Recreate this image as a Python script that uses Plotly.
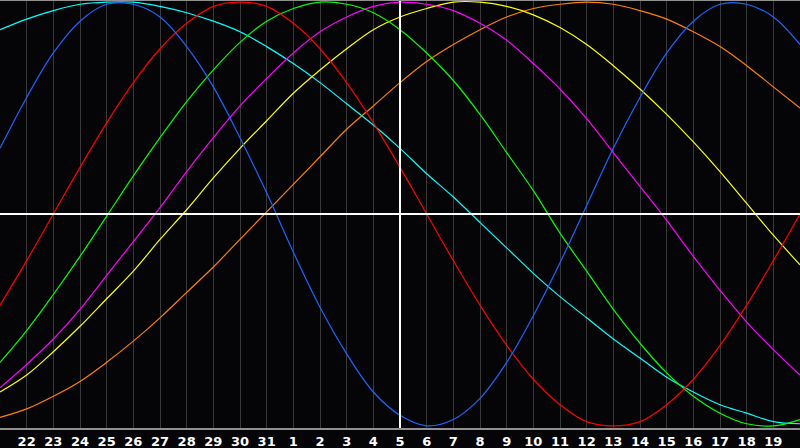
import plotly.graph_objects as go

# day of month for each column, 21st .. 20th of next month
days = [21, 22, 23, 24, 25, 26, 27, 28, 29, 30, 31,
        1, 2, 3, 4, 5, 6, 7, 8, 9, 10, 11, 12, 13, 14, 15, 16, 17, 18, 19, 20]
today_index = 15

# cycle values, one per day (-1 .. 1)
physical = [0.31, 0.55, 0.76, 0.91, 0.99, 0.99, 0.93, 0.79, 0.60, 0.36, 0.10,
            -0.18, -0.44, -0.66, -0.84, -0.95, -1.00, -0.97, -0.87, -0.70, -0.48,
            -0.23, 0.04, 0.31, 0.55, 0.76, 0.91, 0.99, 0.99, 0.93, 0.80]
emotional = [-0.43, -0.22, 0.00, 0.22, 0.43, 0.62, 0.78, 0.90, 0.98, 1.00, 0.98,
             0.90, 0.78, 0.62, 0.43, 0.22, 0.00, -0.22, -0.43, -0.62, -0.78,
             -0.90, -0.98, -1.00, -0.98, -0.90, -0.78, -0.62, -0.43, -0.22, 0.00]
intellectual = [-0.70, -0.55, -0.38, -0.20, -0.01, 0.18, 0.36, 0.53, 0.68, 0.81, 0.91,
                0.97, 1.00, 0.99, 0.95, 0.87, 0.76, 0.63, 0.47, 0.29, 0.11,
                -0.09, -0.27, -0.45, -0.61, -0.75, -0.86, -0.94, -0.99, -1.00, -0.97]
intuitive = [-0.82, -0.71, -0.59, -0.45, -0.29, -0.13, 0.03, 0.20, 0.36, 0.51, 0.64,
             0.76, 0.86, 0.93, 0.98, 1.00, 0.99, 0.96, 0.90, 0.82, 0.71,
             0.59, 0.45, 0.29, 0.13, -0.03, -0.20, -0.36, -0.51, -0.64, -0.76]
aesthetic = [-0.84, -0.76, -0.65, -0.53, -0.40, -0.27, -0.12, 0.02, 0.17, 0.31, 0.44,
             0.57, 0.68, 0.78, 0.87, 0.93, 0.97, 1.00, 1.00, 0.98, 0.94,
             0.88, 0.80, 0.70, 0.59, 0.47, 0.34, 0.20, 0.05, -0.10, -0.24]
awareness = [-0.96, -0.92, -0.86, -0.79, -0.70, -0.60, -0.49, -0.37, -0.25, -0.12, 0.01,
             0.14, 0.27, 0.40, 0.51, 0.62, 0.72, 0.80, 0.87, 0.93, 0.97,
             0.99, 1.00, 0.99, 0.96, 0.92, 0.86, 0.79, 0.70, 0.60, 0.50]
spiritual = [0.87, 0.92, 0.96, 0.99, 1.00, 1.00, 0.98, 0.95, 0.91, 0.86, 0.79,
             0.71, 0.62, 0.52, 0.42, 0.31, 0.19, 0.08, -0.04, -0.16, -0.28,
             -0.39, -0.49, -0.59, -0.68, -0.77, -0.84, -0.90, -0.94, -0.98, -0.99]

series = [
    ("Spiritual", spiritual, "#00ffff"),
    ("Awareness", awareness, "#ff8000"),
    ("Aesthetic", aesthetic, "#ffff00"),
    ("Intuitive", intuitive, "#ff00ff"),
    ("Intellectual", intellectual, "#00ff00"),
    ("Emotional", emotional, "#ff0000"),
    ("Physical", physical, "#1a66ff"),
]

x = list(range(len(days)))

fig = go.Figure()
for name, vals, color in series:
    fig.add_trace(go.Scatter(x=x, y=vals, name=name, mode="lines",
                             line=dict(color=color, width=1.2, shape="spline"),
                             hoverinfo="skip"))

# zero line and today marker
fig.add_hline(y=0, line=dict(color="white", width=2))
fig.add_vline(x=today_index, line=dict(color="white", width=2))

fig.update_layout(
    width=800, height=448,
    margin=dict(l=0, r=0, t=0, b=20),
    paper_bgcolor="#050508",
    plot_bgcolor="#050508",
    showlegend=False,
)
fig.update_xaxes(
    range=[0, len(days) - 1],
    tickvals=x[1:-1], ticktext=[str(d) for d in days[1:-1]],
    showgrid=True, gridcolor="#3a3a3a", gridwidth=1,
    showline=True, linecolor="#909090", linewidth=2,
    zeroline=False, ticks="",
    tickfont=dict(family="DejaVu Sans", size=13, color="white", weight="bold"),
)
fig.update_yaxes(
    range=[-1.01, 1.01], showgrid=False, zeroline=False,
    showticklabels=False, showline=True, linecolor="#909090", linewidth=2,
)
fig.add_shape(type="line", xref="paper", yref="paper", x0=0, x1=1, y0=1, y1=1,
              line=dict(color="#909090", width=2))

# page body has a default 8px margin; drop it so the chart fills the window
fig.write_html("out.html", config={"displayModeBar": False},
               post_script="document.body.style.margin='0';")
